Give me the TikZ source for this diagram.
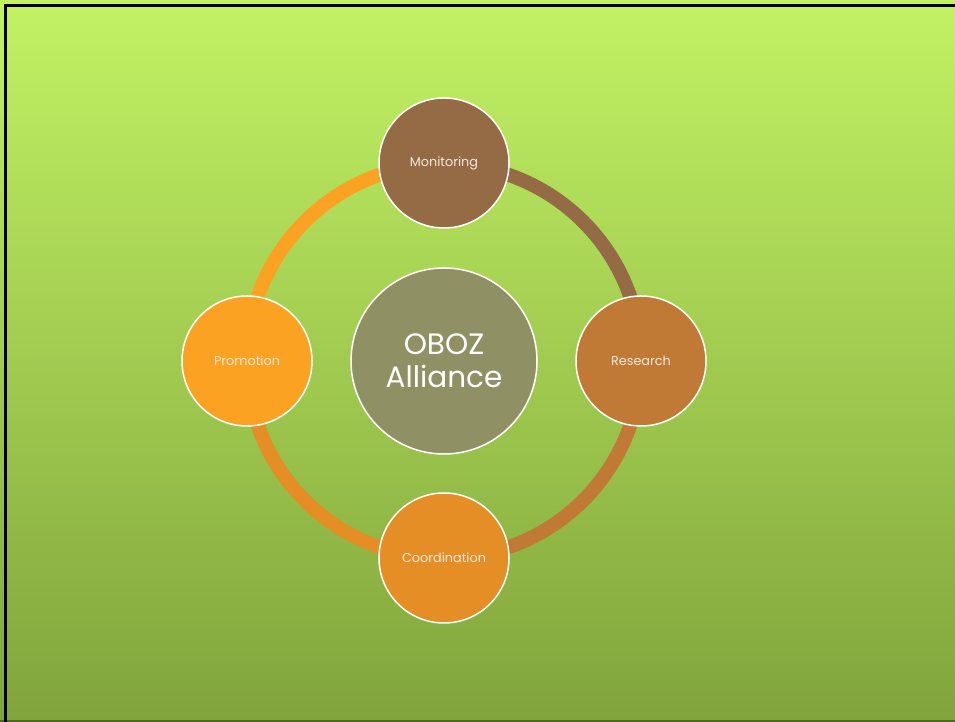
\documentclass[tikz,border=0pt]{standalone}
\usepackage{fontspec}
\setmainfont{Poppins}
\definecolor{bgtop}{HTML}{C2F264}
\definecolor{bgbot}{HTML}{80A43C}
\definecolor{cmon}{HTML}{956B45}
\definecolor{cres}{HTML}{C07A35}
\definecolor{ccoo}{HTML}{E48E25}
\definecolor{cpro}{HTML}{FCA222}
\definecolor{ccen}{HTML}{8F9165}
\definecolor{ctxt}{HTML}{F4E8DE}
\definecolor{edgegreen}{HTML}{4E6A1E}
\tikzset{
  small/.style={circle, draw=white, line width=1.5pt, minimum size=130pt, inner sep=0pt,
    text=ctxt, font=\fontsize{12.8}{15}\selectfont},
  big/.style={circle, draw=white, line width=1.5pt, minimum size=186pt, inner sep=0pt,
    text=white, font=\fontsize{29.5}{33}\selectfont, align=center},
  ring/.style={line width=14pt}
}
\begin{document}
\begin{tikzpicture}[x=1pt,y=1pt]
\useasboundingbox (0,0) rectangle (955,722);
\shade[top color=bgtop, bottom color=bgbot] (0,0) rectangle (955,722);
\draw[edgegreen, line width=2pt] (0,1) -- (955,1);
\draw[black, line width=3.5pt] (5.5,0) -- (5.5,716.5) -- (955,716.5);
\coordinate (c) at (444,361);
% ring arcs
\draw[ring, cmon] (444,558) arc[start angle=90, end angle=0, radius=197];
\draw[ring, cres] (641,361) arc[start angle=0, end angle=-90, radius=197];
\draw[ring, ccoo] (444,164) arc[start angle=-90, end angle=-180, radius=197];
\draw[ring, cpro] (247,361) arc[start angle=180, end angle=90, radius=197];
% nodes
\node[big, fill=ccen] (cen) at (c) {OBOZ\\Alliance};
\node[small, fill=cmon] (mon) at (444,559) {Monitoring};
\node[small, fill=cres] (res) at (641,361) {Research};
\node[small, fill=ccoo] (coo) at (444,164) {Coordination};
\node[small, fill=cpro] (pro) at (247,361) {Promotion};
\end{tikzpicture}
\end{document}
